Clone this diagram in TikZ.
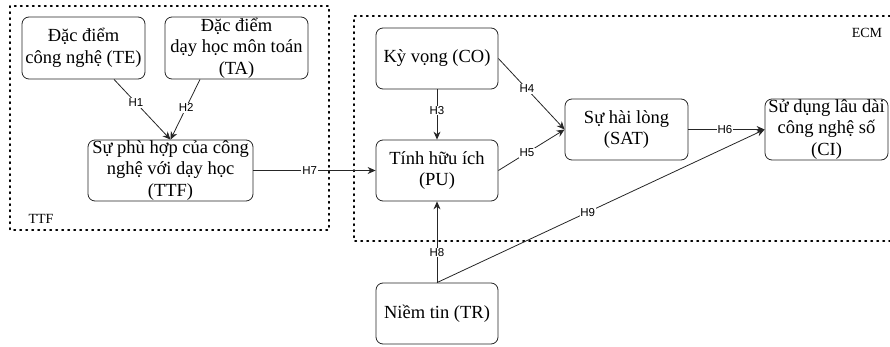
\documentclass[tikz,border=0pt]{standalone}
\usepackage{fontspec}
\setmainfont{Liberation Serif}
\newfontfamily\labfont{Liberation Sans}
\usetikzlibrary{arrows.meta,calc}
\begin{document}
\begin{tikzpicture}[x=1pt,y=-1pt,
  box/.style={draw=black!85, line width=0.8pt, rounded corners=7pt, inner sep=0pt, align=center,
    font=\fontsize{18.5}{21.5}\selectfont},
  grp/.style={draw=black, line width=1.6pt, dash pattern=on 1.4pt off 4.6pt, line cap=round},
  conn/.style={draw=black!85, line width=0.8pt, -{Stealth[length=8pt,width=7pt]}},
  lab/.style={fill=white, inner sep=0.8pt, font=\labfont\fontsize{11.5}{13}\selectfont},
  grplab/.style={font=\fontsize{14}{16}\selectfont, inner sep=0pt}]
\useasboundingbox (0,0) rectangle (890,347);
% groups
\draw[grp] (10,6) rectangle (329,230);
\draw[grp] (890,16) -- (354,16) -- (354,241) -- (890,241);
\node[grplab] (ttflab) at (41,219) {TTF};
\node[grplab] (ecmlab) at (867,33) {ECM};
% nodes
\node[box, minimum width=123pt, minimum height=62pt] (te) at (83.5,48) {Đặc điểm\\công nghệ (TE)};
\node[box, minimum width=143pt, minimum height=62pt] (ta) at (236.5,48) {Đặc điểm\\dạy học môn toán\\(TA)};
\node[box, minimum width=165pt, minimum height=61pt] (ttf) at (170.5,170.5) {Sự phù hợp của công\\nghệ với dạy học\\(TTF)};
\node[box, minimum width=122pt, minimum height=61pt] (co) at (437,58.5) {Kỳ vọng (CO)};
\node[box, minimum width=122pt, minimum height=61pt] (pu) at (437,170.5) {Tính hữu ích\\(PU)};
\node[box, minimum width=123pt, minimum height=61pt] (sat) at (626.5,129.5) {Sự hài lòng\\(SAT)};
\node[box, minimum width=123pt, minimum height=61pt] (ci) at (826.5,129.5) {Sử dụng lâu dài\\công nghệ số\\(CI)};
\node[box, minimum width=122pt, minimum height=61pt] (tr) at (437,313.5) {Niềm tin (TR)};
% connectors
\draw[conn] ([xshift=30.5pt]te.south) -- node[lab, pos=0.39] {H1} (ttf.north);
\draw[conn] ([xshift=-36.5pt]ta.south) -- node[lab, pos=0.47] {H2} (ttf.north);
\draw[conn] (co.south) -- node[lab, pos=0.42] {H3} (pu.north);
\draw[conn] (co.east) -- node[lab, pos=0.43] {H4} (sat.west);
\draw[conn] (pu.east) -- node[lab, pos=0.43] {H5} (sat.west);
\draw[conn] (sat.east) -- node[lab, pos=0.48] {H6} (ci.west);
\draw[conn] (ttf.east) -- node[lab, pos=0.46] {H7} (pu.west);
\draw[conn] (tr.north) -- node[lab, pos=0.37] {H8} (pu.south);
\draw[conn] (tr.north) -- node[lab, pos=0.46] {H9} (ci.west);
\end{tikzpicture}
\end{document}
